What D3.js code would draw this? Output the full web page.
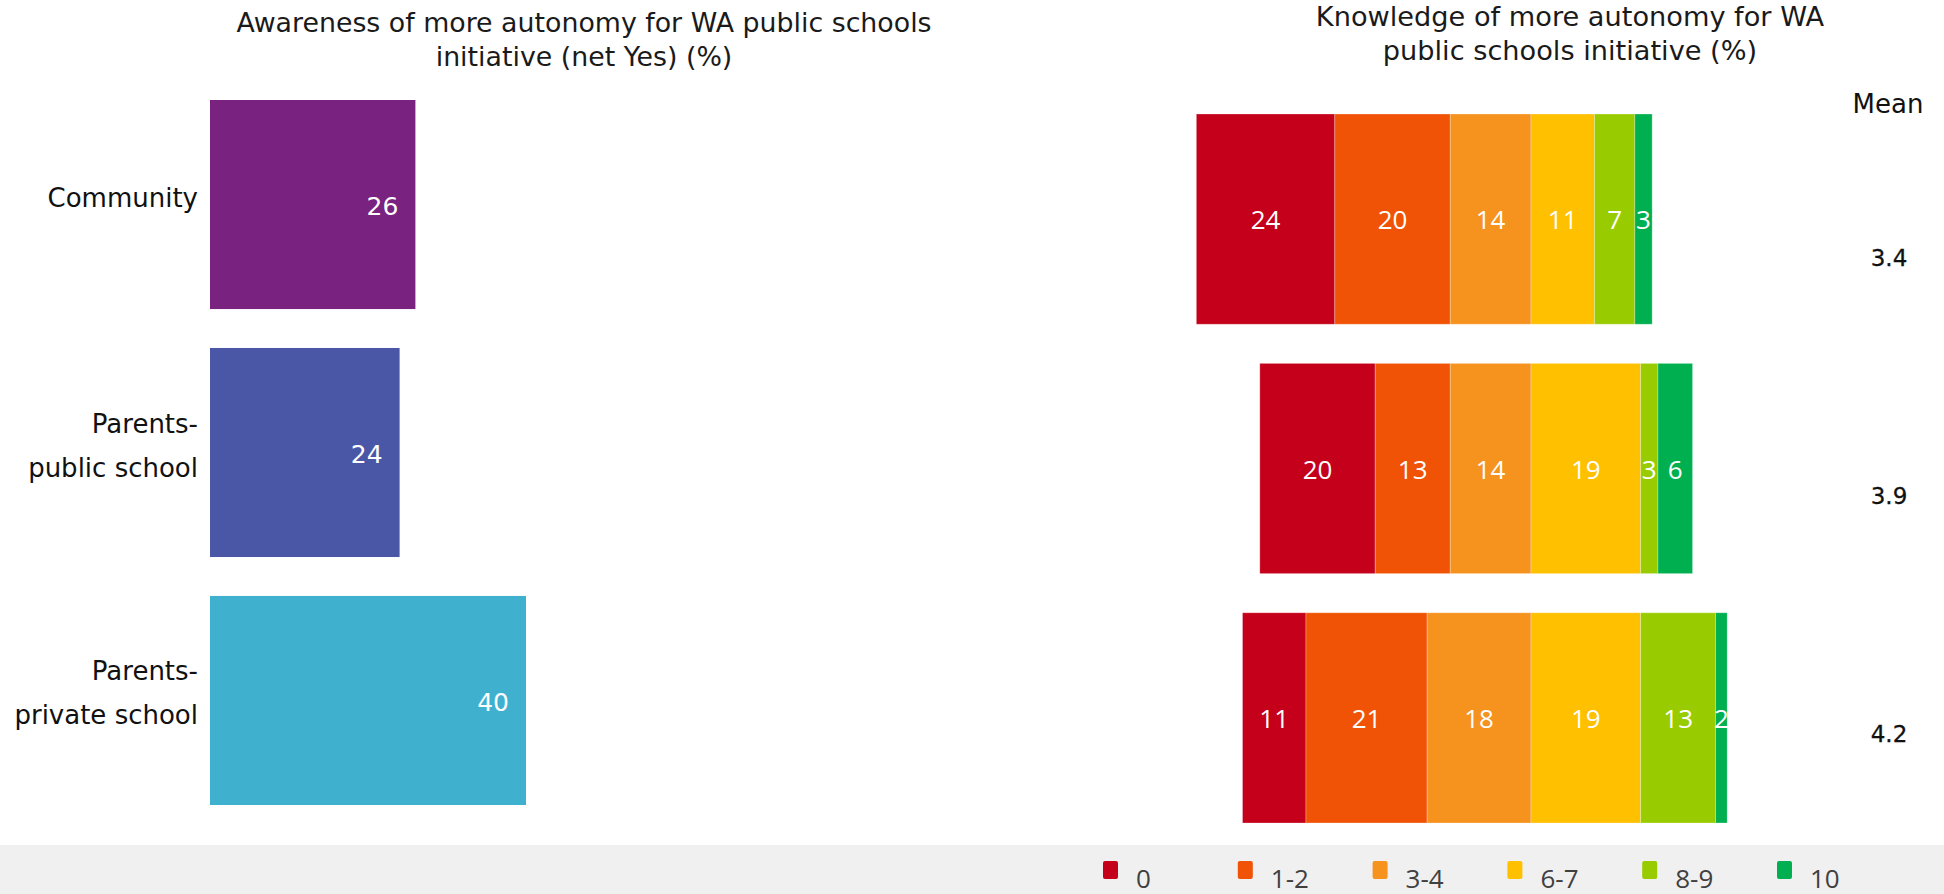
<!DOCTYPE html>
<html>
<head>
<meta charset="utf-8">
<script src="https://cdn.jsdelivr.net/npm/d3@7"></script>
<style>
  html, body { margin: 0; padding: 0; background: #ffffff; }
  svg { display: block; }
</style>
</head>
<body>
<svg id="chart" width="1944" height="894"></svg>
<script>
// ---------- data ----------
const categories = ["Community", "Parents-\npublic school", "Parents-\nprivate school"];
const awareness = [26, 24, 40];
const awarenessColors = ["#7A2280", "#4A56A6", "#3FB0CD"];

const knowLevels = ["0", "1-2", "3-4", "6-7", "8-9", "10"];
const knowLevelColors = ["#C5001A", "#F05206", "#F6921E", "#FFC000", "#99CC00", "#00B050"];
const knowCommunity = [24, 20, 14, 11, 7, 3];
const knowPublic = [20, 13, 14, 19, 3, 6];
const knowPrivate = [11, 21, 18, 19, 13, 2];
const knowNegativeCount = 3; // levels 0, 1-2, 3-4 sit left of the divide

const means = [3.4, 3.9, 4.2];

const titleLeft = ["Awareness of more autonomy for WA public schools", "initiative (net Yes) (%)"];
const titleRight = ["Knowledge of more autonomy for WA", "public schools initiative (%)"];
const meanTitle = "Mean";

// ---------- setup ----------
const W = 1944, H = 894;
const svg = d3.select("#chart");
const verdana = "Verdana, 'DejaVu Sans', sans-serif";
const segoe = "'Segoe UI', 'Open Sans', sans-serif";

// legend band background
svg.append("rect").attr("x", 0).attr("y", 845).attr("width", W).attr("height", H - 845).attr("fill", "#F0F0F0");

// ---------- left chart ----------
const xL = d3.scaleLinear().domain([0, 40]).range([210, 526]);
const yL = d3.scaleBand().domain(categories).range([100, 805]).paddingInner(0.157).paddingOuter(0);

const leftData = categories.map((c, i) => ({ cat: c, v: awareness[i], color: awarenessColors[i] }));

svg.append("g").selectAll("rect").data(leftData).join("rect")
  .attr("x", xL(0))
  .attr("y", d => yL(d.cat))
  .attr("width", d => xL(d.v) - xL(0))
  .attr("height", yL.bandwidth())
  .attr("fill", d => d.color);

svg.append("g").selectAll("text").data(leftData).join("text")
  .attr("x", d => xL(d.v) - 17)
  .attr("y", d => yL(d.cat) + yL.bandwidth() / 2 + 2)
  .attr("text-anchor", "end")
  .attr("dominant-baseline", "central")
  .attr("font-family", verdana)
  .attr("font-size", 25)
  .attr("fill", "#ffffff")
  .text(d => d.v);

// category labels (custom axis, no line)
const catG = svg.append("g");
categories.forEach(c => {
  const lines = c.split("\n");
  const cy = yL(c) + yL.bandwidth() / 2 - 7;
  const lh = 44;
  lines.forEach((ln, j) => {
    catG.append("text")
      .attr("x", 198)
      .attr("y", cy + (j - (lines.length - 1) / 2) * lh)
      .attr("text-anchor", "end")
      .attr("dominant-baseline", "central")
      .attr("font-family", verdana)
      .attr("font-size", 26)
      .attr("fill", "#111111")
      .text(ln);
  });
});

// left title
titleLeft.forEach((t, j) => {
  svg.append("text")
    .attr("x", 584).attr("y", 22 + j * 34)
    .attr("text-anchor", "middle").attr("dominant-baseline", "central")
    .attr("font-family", verdana).attr("font-size", 26.8).attr("fill", "#1a1a1a")
    .text(t);
});

// ---------- right chart ----------
const xR = d3.scaleLinear().domain([-60, 40]).range([1531 - 60 * 5.77, 1531 + 40 * 5.77]);
const yR = d3.scaleBand().domain(categories).range([114, 823]).paddingInner(0.157).paddingOuter(0);

const knowRows = [knowCommunity, knowPublic, knowPrivate];
const segs = [];
categories.forEach((c, i) => {
  const vals = knowRows[i];
  const negSum = d3.sum(vals.slice(0, knowNegativeCount));
  let start = -negSum;
  vals.forEach((v, k) => {
    segs.push({ cat: c, level: knowLevels[k], v: v, x0: start, x1: start + v, color: knowLevelColors[k] });
    start += v;
  });
});

svg.append("g").selectAll("rect").data(segs).join("rect")
  .attr("x", d => xR(d.x0))
  .attr("y", d => yR(d.cat))
  .attr("width", d => xR(d.x1) - xR(d.x0))
  .attr("height", yR.bandwidth())
  .attr("fill", d => d.color)
  .attr("stroke", "rgba(255,255,255,0.35)")
  .attr("stroke-width", 0.8);

svg.append("g").selectAll("text").data(segs).join("text")
  .attr("x", d => (xR(d.x0) + xR(d.x1)) / 2)
  .attr("y", d => yR(d.cat) + yR.bandwidth() / 2)
  .attr("text-anchor", "middle")
  .attr("dominant-baseline", "central")
  .attr("font-family", segoe)
  .attr("font-size", 26)
  .attr("fill", "#ffffff")
  .text(d => d.v);

// right title
titleRight.forEach((t, j) => {
  svg.append("text")
    .attr("x", 1570).attr("y", 16 + j * 34)
    .attr("text-anchor", "middle").attr("dominant-baseline", "central")
    .attr("font-family", verdana).attr("font-size", 27.2).attr("fill", "#1a1a1a")
    .text(t);
});

// mean column
const yM = d3.scalePoint().domain(categories).range([258, 734]);
svg.append("text")
  .attr("x", 1888).attr("y", 104)
  .attr("text-anchor", "middle").attr("dominant-baseline", "central")
  .attr("font-family", verdana).attr("font-size", 26).attr("fill", "#111111")
  .text(meanTitle);
svg.append("g").selectAll("text").data(categories).join("text")
  .attr("x", 1889)
  .attr("y", d => yM(d))
  .attr("text-anchor", "middle").attr("dominant-baseline", "central")
  .attr("font-family", verdana).attr("font-size", 23).attr("fill", "#111111")
  .attr("stroke", "#111111").attr("stroke-width", 0.3)
  .text((d, i) => d3.format(".1f")(means[i]));

// ---------- legend ----------
const xLeg = d3.scalePoint().domain(knowLevels).range([1103, 1777]);
const leg = svg.append("g").selectAll("g").data(knowLevels).join("g")
  .attr("transform", d => `translate(${xLeg(d)},0)`);
leg.append("rect")
  .attr("x", 0).attr("y", 861).attr("width", 15).attr("height", 18).attr("rx", 2)
  .attr("fill", (d, i) => knowLevelColors[i]);
leg.append("text")
  .attr("x", 33).attr("y", 888)
  .attr("font-family", segoe).attr("font-size", 26).attr("fill", "#404040")
  .text(d => d);
</script>
</body>
</html>
